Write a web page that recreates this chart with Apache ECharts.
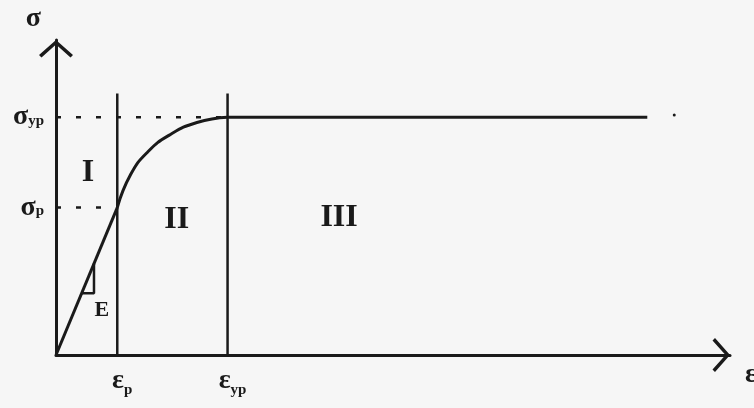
<!DOCTYPE html>
<html>
<head>
<meta charset="utf-8">
<style>
  html, body { margin: 0; padding: 0; background: #f6f6f6; }
  #chart { width: 754px; height: 408px; }
</style>
<script src="https://cdn.jsdelivr.net/npm/echarts@6.0.0/dist/echarts.min.js"></script>
</head>
<body>
<div id="chart"></div>
<script>
// Idealised stress–strain diagram: elastic, hardening and perfectly plastic ranges.
const strainTicks = [1.0, 2.8];          // ε_p, ε_yp
const strainSubs = ['p', 'yp'];
const stressTicks = [0.62, 1.0];         // σ_p, σ_yp
const stressSubs = ['p', 'yp'];

const elastic = [[0, 0], [1.0, 0.62]];
const hardening = [[1.0, 0.62], [1.22, 0.76], [1.5, 0.855], [1.85, 0.925], [2.3, 0.978], [2.8, 1.0]];
const plateau = [[2.8, 1.0], [9.65, 1.0]];
const strayDot = [[10.09, 1.01]];
const slopeMark = [[0.42, 0.26], [0.62, 0.26], [0.62, 0.385]];
const boundaryTop = 1.1;
const regionNames = ['I', 'II', 'III'];
const regionPos = [[0.52, 0.766], [1.97, 0.568], [4.62, 0.577]];
const modulusLabel = ['E'];
const modulusPos = [[0.75, 0.19]];

const INK = '#1a1a1a';
const SERIF = '"Liberation Serif", "DejaVu Serif", serif';
// open chevron used as axis arrowhead (points up before the axis rotates it)
const ARROW = 'path://M0,15 L17,0 L34,15 L31.5,17.5 L17,4.5 L2.5,17.5 Z';

const lineSeries = (data, extra) => Object.assign({
  type: 'line', data: data, symbol: 'none', silent: true,
  lineStyle: { color: INK, width: 3 }
}, extra || {});

const boundaries = strainTicks.map(x => lineSeries([[x, 0], [x, boundaryTop]], { lineStyle: { color: INK, width: 2.5 } }));
const guides = [
  lineSeries([[0, stressTicks[1]], [strainTicks[1], stressTicks[1]]], { lineStyle: { color: INK, width: 2.5, type: [5, 15] } }),
  lineSeries([[0, stressTicks[0]], [strainTicks[0], stressTicks[0]]], { lineStyle: { color: INK, width: 2.5, type: [5, 15] } })
];

const textSeries = (names, pos, size) => ({
  type: 'scatter', silent: true, symbolSize: 0,
  itemStyle: { opacity: 1, color: INK },
  data: names.map((n, i) => [pos[i][0], pos[i][1], n]),
  label: {
    show: true, position: 'inside', formatter: p => p.value[2],
    fontFamily: SERIF, fontWeight: 'bold', fontSize: size, color: INK
  }
});

const chart = echarts.init(document.getElementById('chart'), null, { renderer: 'canvas' });
chart.setOption({
  backgroundColor: '#f6f6f6',
  animation: false,
  grid: { left: 56, right: 24, top: 40, bottom: 53, containLabel: false, outerBoundsMode: 'none' },
  xAxis: {
    type: 'value', min: 0, max: 11,
    axisLine: {
      show: true, onZero: false,
      lineStyle: { color: INK, width: 3 },
      symbol: ['none', ARROW], symbolSize: [34, 17.5], symbolOffset: [0, -8.75]
    },
    axisTick: { show: false },
    splitLine: { show: false },
    axisLabel: {
      customValues: strainTicks,
      margin: 12,
      padding: [0, 0, 0, 10],
      formatter: v => '{m|ε}{s|' + strainSubs[strainTicks.indexOf(v)] + '}',
      rich: {
        m: { fontFamily: SERIF, fontWeight: 'bold', fontSize: 28, lineHeight: 28, verticalAlign: 'top', color: INK },
        s: { fontFamily: SERIF, fontWeight: 'bold', fontSize: 15, lineHeight: 18, verticalAlign: 'top', padding: [16, 0, 0, 0], color: INK }
      }
    },
    name: 'ε', nameLocation: 'end', nameGap: 15,
    nameTextStyle: { fontFamily: SERIF, fontWeight: 'bold', fontSize: 28, color: INK, verticalAlign: 'top', padding: [6, 0, 0, 0] }
  },
  yAxis: {
    type: 'value', min: 0, max: 1.325,
    axisLine: {
      show: true, onZero: false,
      lineStyle: { color: INK, width: 3 },
      symbol: ['none', ARROW], symbolSize: [34, 17.5], symbolOffset: [0, -8.75]
    },
    axisTick: { show: false },
    splitLine: { show: false },
    axisLabel: {
      customValues: stressTicks,
      margin: 12,
      formatter: v => '{m|σ}{s|' + stressSubs[stressTicks.indexOf(v)] + '}',
      rich: {
        m: { fontFamily: SERIF, fontWeight: 'bold', fontSize: 28, lineHeight: 28, verticalAlign: 'top', color: INK },
        s: { fontFamily: SERIF, fontWeight: 'bold', fontSize: 15, lineHeight: 18, verticalAlign: 'top', padding: [10, 0, 0, 0], color: INK }
      }
    },
    name: 'σ', nameLocation: 'end', nameGap: 7,
    nameTextStyle: { fontFamily: SERIF, fontWeight: 'bold', fontSize: 28, color: INK, align: 'right', padding: [0, 15, 0, 0] }
  },
  series: [
    ...guides,
    ...boundaries,
    lineSeries(elastic),
    lineSeries(hardening, { smooth: 0.5 }),
    lineSeries(plateau),
    lineSeries(slopeMark, { lineStyle: { color: INK, width: 2.5 } }),
    { type: 'scatter', silent: true, data: strayDot, symbolSize: 3, itemStyle: { color: INK, opacity: 1 } },
    textSeries(regionNames, regionPos, 32),
    textSeries(modulusLabel, modulusPos, 22)
  ]
});
</script>
</body>
</html>
